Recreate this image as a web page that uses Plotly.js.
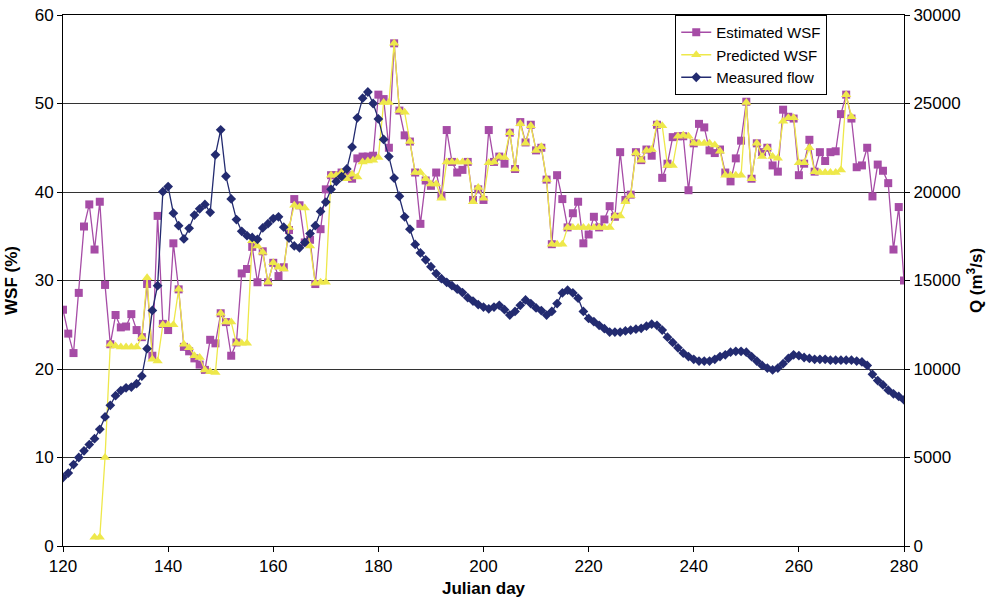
<!DOCTYPE html>
<html>
<head>
<meta charset="utf-8">
<script src="https://cdn.plot.ly/plotly-3.0.1.min.js"></script>
<style>
  html, body { margin: 0; padding: 0; background: #ffffff; }
  #chart { width: 992px; height: 604px; }
</style>
</head>
<body>
<div id="chart"></div>
<script>
// Julian days 120..280
const days = [];
for (let d = 120; d <= 280; d++) days.push(d);

// Estimated water-surface fraction (%)
const estimatedWSF = [
  26.7, 24.0, 21.8, 28.6, 36.1, 38.6, 33.5, 38.9, 29.5, 22.8,   // 120-129
  26.1, 24.7, 24.8, 26.2, 24.4, 23.6, 29.6, 21.5, 37.3, 25.1,   // 130-139
  24.4, 34.2, 29.0, 22.5, 22.0, 21.2, 20.5, 19.9, 23.3, 22.9,   // 140-149
  26.3, 25.3, 21.5, 23.0, 30.8, 31.3, 33.8, 29.8, 33.3, 29.8,   // 150-159
  32.0, 30.5, 31.5, 35.7, 39.2, 38.5, 34.3, 34.6, 29.6, 35.8,   // 160-169
  40.3, 41.9, 41.9, 42.2, 41.9, 41.5, 43.8, 44.0, 44.0, 44.1,   // 170-179
  51.0, 50.5, 45.0, 56.8, 49.2, 46.4, 45.7, 42.2, 36.4, 41.3,   // 180-189
  40.7, 42.2, 39.6, 47.0, 43.4, 42.2, 42.5, 43.4, 39.1, 40.3,   // 190-199
  39.1, 47.0, 43.4, 44.0, 43.2, 46.7, 42.6, 47.9, 45.6, 47.6,   // 200-209
  44.7, 45.0, 41.4, 34.1, 41.9, 39.2, 36.0, 37.6, 38.9, 34.2,   // 210-219
  35.2, 37.2, 36.0, 36.9, 38.4, 37.2, 44.5, 39.1, 39.7, 44.5,   // 220-229
  43.6, 44.8, 44.1, 47.6, 41.6, 43.2, 46.2, 46.3, 46.3, 40.2,   // 230-239
  45.5, 47.7, 47.3, 44.7, 44.4, 44.8, 42.2, 41.2, 43.8, 45.8,   // 240-249
  50.2, 41.5, 45.5, 44.5, 45.0, 43.0, 42.3, 49.3, 48.5, 48.3,   // 250-259
  41.9, 43.2, 45.9, 42.3, 44.5, 43.5, 44.5, 44.6, 48.8, 51.0,   // 260-269
  48.3, 42.8, 43.0, 45.0, 39.5, 43.1, 42.4, 41.0, 33.5, 38.3,   // 270-279
  30.0                                                          // 280
];

// Predicted water-surface fraction (%), no values before day 126 or after day 270
const predictedWSF = [
  null, null, null, null, null, null, 1.0, 1.0, 10.0, 22.8,     // 120-129
  22.6, 22.5, 22.5, 22.5, 22.5, 23.6, 30.3, 21.1, 20.9, 25.0,   // 130-139
  25.0, 25.0, 29.0, 22.8, 22.4, 21.5, 21.3, 19.9, 19.7, 19.6,   // 140-149
  26.3, 25.3, 25.3, 22.9, 22.9, 22.9, 34.5, 33.9, 33.2, 29.8,   // 150-159
  32.0, 31.5, 31.3, 36.0, 38.5, 38.3, 38.2, 33.9, 29.7, 29.8,   // 160-169
  29.8, 41.9, 41.9, 42.2, 41.5, 42.0, 41.7, 43.4, 43.5, 43.6,   // 170-179
  43.9, 50.1, 50.1, 56.8, 49.2, 49.0, 45.7, 42.2, 42.2, 41.5,   // 180-189
  40.9, 40.9, 39.3, 43.4, 43.4, 43.4, 43.4, 43.4, 38.9, 40.5,   // 190-199
  39.3, 43.3, 43.4, 44.0, 43.9, 46.7, 42.6, 47.7, 45.5, 47.5,   // 200-209
  44.7, 45.1, 41.4, 34.1, 34.1, 34.1, 36.0, 36.0, 36.0, 36.0,   // 210-219
  36.0, 36.0, 36.0, 36.0, 36.0, 37.3, 37.3, 38.9, 39.6, 44.4,   // 220-229
  43.6, 44.7, 44.8, 47.7, 47.5, 43.0, 43.0, 46.3, 46.4, 46.3,   // 230-239
  45.5, 45.5, 45.5, 45.5, 45.3, 44.6, 41.9, 41.9, 41.9, 41.9,   // 240-249
  50.1, 41.5, 45.5, 44.0, 45.0, 44.0, 43.8, 48.0, 48.4, 48.4,   // 250-259
  43.3, 43.3, 45.0, 42.3, 42.2, 42.2, 42.2, 42.2, 42.5, 51.0,   // 260-269
  48.5, null, null, null, null, null, null, null, null, null,   // 270-279
  null                                                          // 280
];

// Measured river flow (m3/s)
const measuredFlow = [
  3870, 4120, 4600, 5000, 5380, 5730, 6060, 6590, 7290, 7950,           // 120-129
  8490, 8780, 8940, 8980, 9170, 9600, 11150, 13310, 14710, 20020,      // 130-139
  20310, 18800, 18100, 17350, 17950, 18700, 19050, 19300, 18850, 22100, // 140-149
  23510, 20890, 19610, 18440, 17780, 17530, 17430, 17330, 17970, 18210, // 150-159
  18500, 18600, 18010, 17400, 16950, 16850, 17150, 17650, 18100, 18900, // 160-169
  19430, 20150, 20600, 20870, 21300, 22540, 24190, 25300, 25650, 25000, // 170-179
  24130, 22970, 22000, 20790, 19760, 18600, 17900, 17040, 16560, 16170, // 180-189
  15780, 15390, 15100, 14900, 14710, 14520, 14320, 14030, 13840, 13640, // 190-199
  13500, 13400, 13500, 13600, 13350, 13050, 13250, 13600, 13900, 13700, // 200-209
  13450, 13300, 13050, 13250, 13700, 14300, 14450, 14300, 14000, 13250, // 210-219
  12860, 12670, 12470, 12280, 12090, 12090, 12090, 12150, 12200, 12250, // 220-229
  12300, 12420, 12530, 12470, 12200, 11800, 11500, 11200, 10900, 10700, // 230-239
  10550, 10450, 10450, 10450, 10550, 10700, 10800, 10950, 11000, 11000, // 240-249
  10950, 10700, 10450, 10200, 10050, 9950, 10050, 10300, 10600, 10800, // 250-259
  10750, 10650, 10600, 10550, 10550, 10550, 10500, 10500, 10500, 10500, // 260-269
  10500, 10450, 10400, 10200, 9700, 9350, 9100, 8800, 8600, 8450,       // 270-279
  8250                                                                  // 280
];

const seriesNames = ['Estimated WSF', 'Predicted WSF', 'Measured flow'];
const xTicks = [120, 140, 160, 180, 200, 220, 240, 260, 280];
const wsfTicks = [0, 10, 20, 30, 40, 50, 60];
const flowTicks = [0, 5000, 10000, 15000, 20000, 25000, 30000];

const FONT = 'Arial, "Liberation Sans", sans-serif';
const MAGENTA = '#A64CA6';
const YELLOW = '#EEE84A';
const NAVY = '#232B70';

const traces = [
  {
    x: days, y: estimatedWSF, name: seriesNames[0], type: 'scatter', mode: 'lines+markers',
    line: { color: MAGENTA, width: 1.3 },
    marker: { symbol: 'square', size: 8, color: MAGENTA }
  },
  {
    x: days, y: predictedWSF, name: seriesNames[1], type: 'scatter', mode: 'lines+markers',
    line: { color: YELLOW, width: 1.3 },
    marker: { symbol: 'triangle-up', size: 9, color: YELLOW },
    connectgaps: false
  },
  {
    x: days, y: measuredFlow, name: seriesNames[2], type: 'scatter', mode: 'lines+markers',
    yaxis: 'y2',
    line: { color: NAVY, width: 1.3 },
    marker: { symbol: 'diamond', size: 7.5, color: NAVY }
  }
];

const layout = {
  width: 992, height: 604,
  margin: { l: 63, r: 88, t: 15, b: 58, pad: 0 },
  paper_bgcolor: '#ffffff', plot_bgcolor: '#ffffff',
  font: { family: FONT, size: 17, color: '#000000' },
  showlegend: true,
  legend: {
    x: 0.728, y: 1, xanchor: 'left', yanchor: 'top',
    bgcolor: '#ffffff', bordercolor: '#000000', borderwidth: 1,
    font: { family: FONT, size: 15, color: '#000000' },
    tracegroupgap: 0, itemwidth: 30
  },
  xaxis: {
    range: [120, 280], tickvals: xTicks, ticktext: xTicks.map(String),
    ticks: 'outside', ticklen: 5, tickcolor: '#000000',
    showline: true, linecolor: '#000000', linewidth: 1, mirror: true,
    showgrid: false, zeroline: false,
    tickfont: { family: FONT, size: 17 },
    title: { text: '<b>Julian day</b>', font: { family: FONT, size: 17 }, standoff: 6 }
  },
  yaxis: {
    range: [0, 60], tickvals: wsfTicks, ticktext: wsfTicks.map(String),
    ticks: 'outside', ticklen: 5, tickcolor: '#000000',
    showline: true, linecolor: '#000000', linewidth: 1,
    showgrid: true, gridcolor: '#333333', gridwidth: 1, zeroline: false,
    tickfont: { family: FONT, size: 17 },
    title: { text: '<b>WSF (%)</b>', font: { family: FONT, size: 17 }, standoff: 12 }
  },
  yaxis2: {
    range: [0, 30000], tickvals: flowTicks, ticktext: flowTicks.map(String),
    overlaying: 'y', side: 'right',
    ticks: 'outside', ticklen: 5, tickcolor: '#000000',
    showline: true, linecolor: '#000000', linewidth: 1,
    showgrid: false, zeroline: false,
    tickfont: { family: FONT, size: 17 },
    title: { text: '<b>Q (m<sup>3</sup>/s)</b>', font: { family: FONT, size: 17 }, standoff: 10 }
  }
};

Plotly.newPlot('chart', traces, layout, { staticPlot: true, displayModeBar: false });
</script>
</body>
</html>
